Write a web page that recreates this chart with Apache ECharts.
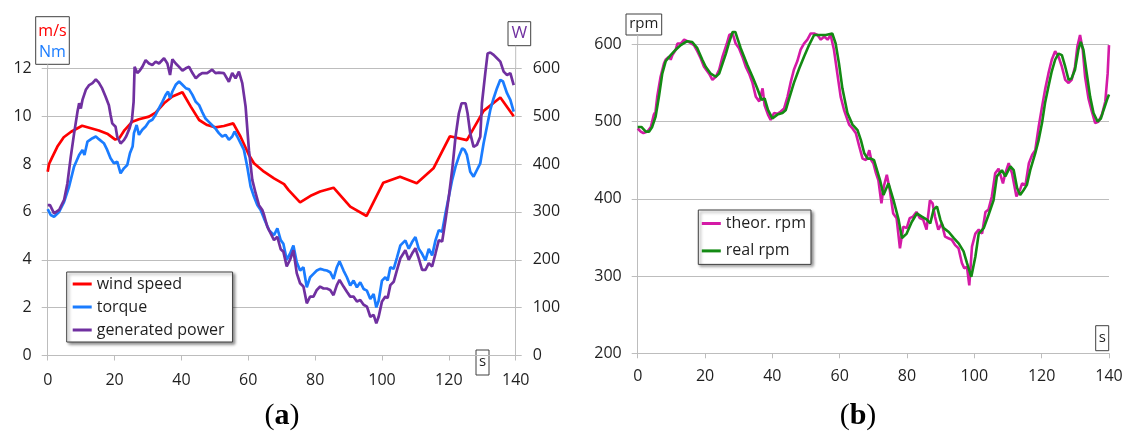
<!DOCTYPE html>
<html>
<head>
<meta charset="utf-8">
<script src="https://cdn.jsdelivr.net/npm/echarts@6/dist/echarts.min.js"></script>
<style>
html, body { margin: 0; padding: 0; background: #fff; }
#chart { width: 1123px; height: 434px; }
</style>
</head>
<body>
<div id="chart"></div>
<script>
// ---- (a) wind turbine: wind speed, torque, generated power vs time (s)
const windT = [0, 0.4, 1.4, 2.9, 4.8, 7, 10.3, 15.3, 18, 20.2, 21.5, 23, 25.3, 27.3, 30.3, 32.3, 34.8, 37.3, 40.3, 42.8, 45.3, 47.7, 50.2, 52.7, 55.5, 57.7, 60.2, 61.7, 64.7, 67.7, 70.7, 72, 75.5, 79, 81.5, 85.5, 90.5, 95.4, 100.4, 105.4, 110.4, 115.4, 120.3, 125.4, 130.4, 135.4, 139.4];
const windSpeed = [7.68, 8.0, 8.3, 8.73, 9.12, 9.35, 9.6, 9.4, 9.25, 9.02, 9.1, 9.42, 9.77, 9.87, 9.98, 10.15, 10.54, 10.82, 11.0, 10.4, 9.84, 9.63, 9.53, 9.59, 9.7, 9.14, 8.38, 8.03, 7.68, 7.4, 7.16, 6.92, 6.4, 6.7, 6.85, 7.01, 6.22, 5.83, 7.22, 7.47, 7.2, 7.82, 9.16, 9.0, 10.22, 10.78, 10.0];

const torqueT = [0, 0.9, 1.9, 3.4, 4.9, 6.4, 7.9, 9.4, 10.4, 11, 11.9, 13.4, 14.4, 15.3, 16.8, 17.8, 18.8, 19.8, 20.8, 21.8, 22.8, 23.8, 24.6, 25.4, 25.8, 26.6, 27.3, 28.3, 29.3, 30.3, 31.3, 32.3, 33.3, 34.3, 35.3, 36, 36.6, 37.3, 38.3, 39.3, 40.3, 41.3, 42.3, 43.3, 44.3, 45.3, 46.2, 47.2, 48.2, 49.2, 50.2, 51.2, 52.2, 53.2, 54.2, 55.2, 55.9, 56.7, 57.7, 58.7, 59.7, 60.7, 61.7, 62.7, 63.7, 64.7, 66.2, 67.7, 68.7, 69.7, 70.5, 71.5, 72.5, 73.5, 74.5, 75.5, 76.5, 77.5, 78.5, 79.5, 80.5, 81.5, 82.5, 83.5, 84.5, 85.5, 86.5, 87.3, 88.5, 89.5, 90.5, 91.5, 92.5, 93.5, 94.5, 95.5, 96.5, 97.5, 98.3, 99, 100, 101, 101.7, 102.5, 103.5, 104.5, 105.5, 107, 108, 109, 110, 111, 112, 113, 114, 115, 116, 117, 118, 119, 120, 121, 122, 123, 124, 124.7, 125.4, 126.4, 127.4, 128.4, 129.4, 130.4, 131.4, 132.4, 133.4, 134.4, 135.4, 136.2, 137.4, 138.4, 139.4];
const torque = [6.12, 5.87, 5.8, 6.0, 6.42, 7.06, 7.9, 8.38, 8.59, 8.38, 8.94, 9.08, 9.15, 9.04, 8.87, 8.59, 8.24, 8.03, 8.1, 7.61, 7.82, 7.96, 8.45, 8.73, 9.29, 9.63, 9.22, 9.43, 9.57, 9.78, 9.85, 10.06, 10.34, 10.6, 10.89, 11.03, 10.75, 11.03, 11.31, 11.45, 11.31, 11.17, 11.12, 10.89, 10.6, 10.46, 10.18, 9.9, 9.76, 9.62, 9.48, 9.29, 9.15, 9.22, 9.01, 9.15, 9.36, 9.15, 8.87, 8.59, 7.89, 7.06, 6.64, 6.29, 6.08, 5.73, 5.24, 5.03, 5.31, 4.82, 4.67, 4.0, 4.25, 4.6, 3.9, 3.55, 3.69, 2.85, 3.27, 3.41, 3.55, 3.62, 3.58, 3.55, 3.48, 3.2, 3.69, 3.94, 3.55, 3.27, 2.92, 3.13, 2.85, 3.06, 2.78, 2.71, 2.36, 2.57, 2.01, 2.29, 3.13, 3.27, 3.13, 3.69, 3.62, 4.1, 4.6, 4.81, 4.46, 4.74, 4.95, 4.46, 4.25, 3.97, 4.46, 4.18, 4.81, 5.24, 5.17, 5.94, 6.64, 7.34, 7.89, 8.31, 8.66, 8.59, 8.38, 7.68, 7.47, 7.75, 8.03, 8.87, 9.57, 10.26, 10.75, 11.17, 11.52, 11.45, 10.96, 10.68, 10.19];

const powerT = [0, 0.7, 1.9, 3.4, 4.9, 5.9, 6.9, 7.9, 8.9, 9.4, 9.9, 10.4, 11.4, 12.4, 13.4, 14.4, 15.3, 16.3, 17.3, 18.3, 18.8, 19.3, 20.3, 20.8, 21.8, 22.8, 23.5, 24.5, 25.2, 25.7, 26.0, 26.8, 27.5, 28.3, 29.3, 30.3, 31.3, 32.3, 33.3, 34.8, 35.8, 36.6, 37.3, 38.3, 39.3, 40.3, 41.3, 42.3, 43.3, 44.3, 45.3, 46.2, 47.7, 49.2, 50.2, 51.2, 52.7, 54.2, 55.2, 56.2, 57.2, 58.2, 59.2, 60.2, 61.2, 62.2, 63.2, 64.2, 64.7, 65.7, 66.7, 67.7, 68.7, 69.7, 70.5, 71.5, 72.5, 73.5, 74.5, 75.5, 76.5, 77.5, 78.5, 79.5, 80.5, 81.5, 82.5, 83.5, 84.5, 85.5, 86.5, 87.3, 88.5, 89.5, 90.5, 91.5, 92.5, 93.5, 94.5, 95.5, 96.5, 97.5, 98.3, 99, 100, 101, 101.7, 102.5, 103.5, 104.5, 105.5, 107, 108, 109, 110, 111, 112, 113, 114, 115, 116, 117, 118, 119, 120, 121, 122, 123, 123.8, 125, 125.6, 126.4, 127.4, 128.4, 129.4, 129.9, 130.9, 131.6, 132.4, 133.4, 134.4, 135.4, 136.4, 137.4, 138.4, 139.4];
const power = [314, 314, 297, 304, 325, 360, 415, 464, 509, 527, 516, 534, 555, 565, 569, 577, 570, 558, 541, 523, 503, 485, 478, 457, 443, 450, 458, 475, 492, 530, 603, 590, 595, 603, 617, 610, 607, 614, 610, 621, 610, 586, 619, 610, 603, 595, 600, 603, 590, 579, 586, 590, 590, 597, 590, 591, 590, 572, 590, 579, 593, 569, 520, 429, 367, 339, 314, 304, 294, 269, 255, 241, 248, 222, 217, 186, 200, 220, 172, 151, 144, 109, 123, 123, 137, 144, 140, 140, 137, 126, 147, 158, 144, 133, 123, 123, 113, 116, 106, 102, 81, 85, 67, 81, 113, 123, 120, 147, 154, 179, 203, 220, 200, 213, 224, 203, 179, 179, 193, 186, 213, 241, 238, 283, 332, 388, 457, 506, 527, 527, 506, 464, 436, 440, 457, 527, 590, 631, 633, 628, 621, 614, 593, 586, 590, 565];

// ---- (b) rotor speed: theoretical vs real rpm
const theorT = [0, 0.9, 1.7, 2.9, 3.9, 4.8, 5.3, 5.8, 6.8, 7.8, 8.3, 9.3, 9.8, 10.3, 11.3, 11.8, 12.8, 13.8, 14.2, 15.2, 16.7, 17.7, 18.7, 19.7, 20.2, 21.2, 22.2, 23.2, 24.2, 25.2, 25.6, 26.5, 27.2, 28.2, 29.1, 30.1, 31.1, 32.1, 33.1, 34.1, 35.1, 36.1, 37.1, 37.7, 38.7, 39.5, 40.5, 41.5, 42.5, 43.5, 44.5, 45.4, 46.4, 47.4, 48.4, 49.4, 50.4, 51.4, 52.4, 53.4, 54.4, 55.4, 56.4, 57.3, 58.3, 59.3, 60.3, 61.3, 62.8, 63.8, 64.8, 65.8, 66.8, 67.8, 68.8, 69.4, 70.0, 70.8, 71.5, 72.4, 73.1, 74, 74.9, 75.9, 76.9, 77.9, 78.9, 79.9, 80.8, 81.8, 82.8, 83.8, 84.8, 85.8, 86.8, 87.6, 88.3, 89.3, 90.3, 91.3, 92.3, 93.3, 94.3, 95.3, 96.3, 97, 97.8, 98.5, 99.3, 100.3, 101.3, 102.3, 103.3, 104.2, 105.2, 106.2, 107.2, 108.5, 109.2, 110.2, 111.2, 112.5, 113.5, 114.2, 115.2, 116.2, 117.2, 118.1, 119.1, 120.1, 121, 122, 123, 124, 125, 126, 127, 128, 128.9, 129.9, 130.6, 131.4, 132.2, 132.9, 133.9, 134.9, 135.9, 136.9, 137.9, 138.9, 139.6, 140];
const theorRpm = [491, 487, 485, 487, 493, 509, 513, 532, 558, 575, 580, 584, 580, 586, 593, 601, 601, 606, 608, 603, 599, 591, 582, 571, 573, 562, 554, 558, 567, 584, 582, 601, 612, 614, 601, 595, 584, 571, 562, 550, 532, 526, 543, 521, 509, 502, 511, 510, 513, 517, 532, 550, 567, 578, 593, 601, 606, 614, 614, 612, 606, 610, 606, 612, 593, 562, 532, 515, 496, 491, 485, 468, 452, 450, 463, 450, 446, 433, 424, 394, 416, 431, 411, 381, 375, 336, 364, 362, 375, 377, 383, 375, 373, 360, 398, 394, 377, 360, 368, 351, 349, 347, 340, 336, 317, 310, 312, 288, 338, 355, 360, 355, 383, 386, 403, 433, 439, 420, 433, 446, 433, 403, 411, 420, 418, 446, 457, 463, 493, 519, 541, 562, 580, 591, 584, 571, 554, 550, 554, 571, 597, 612, 593, 558, 530, 513, 498, 500, 509, 526, 562, 599];

const realT = [0, 1.1, 2.4, 3.4, 4.3, 5.3, 6.3, 7.3, 8.3, 9.8, 11.3, 12.8, 14.7, 16.2, 17.7, 19.2, 20.2, 21.7, 23.2, 24.2, 25.2, 26.2, 27.2, 28.2, 29, 29.6, 30.6, 31.6, 32.6, 34.1, 35.5, 36.8, 37.7, 38.7, 40, 41.5, 43, 44, 45, 46.4, 48, 49.4, 50.9, 52.4, 54.4, 55.9, 57.8, 58.8, 59.8, 60.8, 62.3, 63.8, 65.3, 66.3, 67.3, 68.3, 69.3, 70.2, 72, 73, 74.5, 76, 77.5, 78.5, 79.9, 81.4, 82.9, 84.4, 85.9, 86.9, 87.9, 88.9, 89.9, 90.9, 92.4, 93.9, 95.4, 96.8, 97.8, 99.1, 100.3, 101.3, 102.8, 104.2, 105.7, 106.7, 108.2, 109.2, 110.7, 111.7, 112.7, 113.6, 114.6, 115.6, 116.6, 118.1, 119.1, 120.1, 121, 122, 123, 124, 125, 126, 127, 128, 128.9, 129.9, 130.9, 131.6, 132.4, 133.4, 134.4, 135.4, 136.6, 137.6, 138.4, 139.4, 140];
const realRpm = [493, 493, 487, 487, 493, 506, 532, 562, 578, 586, 593, 599, 604, 603, 595, 580, 571, 562, 558, 562, 575, 588, 603, 616, 616, 608, 595, 584, 573, 558, 543, 528, 530, 515, 504, 509, 511, 515, 530, 550, 569, 584, 599, 612, 612, 612, 614, 601, 575, 543, 511, 496, 489, 476, 459, 452, 452, 450, 424, 405, 420, 398, 373, 349, 355, 370, 381, 377, 373, 368, 386, 390, 373, 362, 357, 349, 342, 332, 317, 299, 325, 355, 362, 379, 398, 429, 437, 429, 442, 437, 414, 405, 411, 418, 437, 459, 476, 498, 524, 545, 565, 580, 588, 586, 571, 554, 556, 567, 593, 603, 593, 562, 532, 511, 500, 504, 515, 528, 535];

const FONT = '"Open Sans", "DejaVu Sans", sans-serif';
const TXT = '#1f1f1f';
const GRID = '#bdbdbd';
const RED = '#ff0000', BLUE = '#1a7cff', PURPLE = '#7030a0';
const MAGENTA = '#d41aa6', GREEN = '#138a13';

const pair = (ts, vs) => ts.map((t, i) => [t, vs[i]]);

const chart = echarts.init(document.getElementById('chart'), null, { renderer: 'canvas' });

function xAxisFor(gridIndex, margin) {
  return {
    gridIndex, type: 'value', min: 0, max: 140, interval: 20,
    axisLine: { show: true, onZero: false, lineStyle: { color: GRID, width: 1 } },
    axisTick: { show: true, length: 5, lineStyle: { color: GRID } },
    axisLabel: { margin, fontSize: 16, color: TXT, fontFamily: FONT },
    splitLine: { show: false }
  };
}

function yAxisFor(gridIndex, min, max, interval, position, grid, margin) {
  return {
    gridIndex, type: 'value', min, max, interval, position,
    axisLine: { show: true, lineStyle: { color: GRID, width: 1 } },
    axisTick: { show: true, length: 6, lineStyle: { color: GRID } },
    axisLabel: { margin, fontSize: 16, color: TXT, fontFamily: FONT },
    splitLine: { show: grid, lineStyle: { color: GRID, width: 1 } }
  };
}

function lineSeries(name, xi, yi, data, color, width) {
  return {
    name, type: 'line', xAxisIndex: xi, yAxisIndex: yi, data,
    showSymbol: false, symbol: 'none', clip: false,
    lineStyle: { color, width }, itemStyle: { color },
    emphasis: { disabled: true }, animation: false
  };
}

function legendFor(names, left, top, padding, gap) {
  return {
    data: names, orient: 'vertical', left, top, padding, itemGap: gap,
    icon: 'rect', itemWidth: 19, itemHeight: 3,
    backgroundColor: '#ffffff', borderColor: '#404040', borderWidth: 1,
    shadowColor: 'rgba(0,0,0,0.45)', shadowBlur: 3, shadowOffsetX: 2, shadowOffsetY: 2,
    selectedMode: false,
    textStyle: { fontSize: 16, lineHeight: 20, color: TXT, fontFamily: FONT }
  };
}

chart.setOption({
  animation: false,
  backgroundColor: '#ffffff',
  grid: [
    { left: 47.7, top: 68.3, width: 468, height: 287.2, outerBoundsMode: 'none', containLabel: false },
    { left: 637.7, top: 44.3, width: 471.3, height: 309, outerBoundsMode: 'none', containLabel: false }
  ],
  xAxis: [xAxisFor(0, 17), xAxisFor(1, 15)],
  yAxis: [
    yAxisFor(0, 0, 12, 2, 'left', true, 16),
    yAxisFor(0, 0, 600, 100, 'right', false, 17),
    yAxisFor(1, 200, 600, 100, 'left', true, 16)
  ],
  legend: [
    legendFor(['wind speed', 'torque', 'generated power'], 66.7, 272, [2, 8, 2, 6], 3),
    legendFor(['theor. rpm', 'real rpm'], 698.3, 210, [3.5, 5, 3.5, 3.5], 7.4)
  ],
  series: [
    lineSeries('wind speed', 0, 0, pair(windT, windSpeed), RED, 2.7),
    lineSeries('torque', 0, 0, pair(torqueT, torque), BLUE, 2.7),
    lineSeries('generated power', 0, 1, pair(powerT, power), PURPLE, 2.7),
    lineSeries('theor. rpm', 1, 2, pair(theorT, theorRpm), MAGENTA, 2.6),
    lineSeries('real rpm', 1, 2, pair(realT, realRpm), GREEN, 2.6)
  ]
});

// unit boxes, panel captions and the axis-line extensions that lead up to the unit boxes
const leftTop = chart.convertToPixel({ gridIndex: 0 }, [0, 12]);
const rightTop = chart.convertToPixel({ gridIndex: 0 }, [140, 12]);
const rpmTop = chart.convertToPixel({ gridIndex: 1 }, [0, 600]);

function unitBox(x, y, w, h, texts) {
  const children = [{
    type: 'rect', shape: { x, y, width: w, height: h },
    style: { fill: '#ffffff', stroke: '#404040', lineWidth: 1 }
  }];
  texts.forEach(t => children.push({
    type: 'text', x: t.x, y: t.y,
    style: { text: t.text, fill: t.color, font: (t.size || 15) + 'px ' + FONT, align: 'center', verticalAlign: 'middle' }
  }));
  return { type: 'group', z: 100, children };
}

function caption(letter, x, y) {
  return {
    type: 'text', x, y, z: 100,
    style: {
      text: '{p|(}{b|' + letter + '}{p|)}',
      align: 'center', verticalAlign: 'middle',
      rich: {
        p: { font: '30px "Liberation Serif", serif', fill: '#000' },
        b: { font: 'bold 30px "Liberation Serif", serif', fill: '#000' }
      }
    }
  };
}

chart.setOption({
  graphic: [
    { type: 'line', z: 5, shape: { x1: leftTop[0], y1: 64.3, x2: leftTop[0], y2: leftTop[1] }, style: { stroke: GRID, lineWidth: 1 } },
    { type: 'line', z: 5, shape: { x1: rightTop[0], y1: 45.7, x2: rightTop[0], y2: rightTop[1] }, style: { stroke: GRID, lineWidth: 1 } },
    { type: 'line', z: 5, shape: { x1: rpmTop[0], y1: 35, x2: rpmTop[0], y2: rpmTop[1] }, style: { stroke: GRID, lineWidth: 1 } },
    unitBox(35.7, 16.7, 33.6, 47.6, [
      { text: 'm/s', x: 52.5, y: 31.2, color: RED, size: 16 },
      { text: 'Nm', x: 52.5, y: 52.2, color: BLUE, size: 16 }
    ]),
    unitBox(508, 21.7, 22.7, 24, [{ text: 'W', x: 519.3, y: 33.5, color: PURPLE, size: 17 }]),
    unitBox(476, 350, 13, 25, [{ text: 's', x: 482.5, y: 362, color: TXT, size: 15 }]),
    unitBox(1095.7, 325.7, 13, 25, [{ text: 's', x: 1102.2, y: 337.7, color: TXT, size: 15 }]),
    unitBox(626, 14, 35.7, 21, [{ text: 'rpm', x: 643.8, y: 24, color: TXT, size: 15 }]),
    caption('a', 282, 416),
    caption('b', 858, 416)
  ]
});
</script>
</body>
</html>
